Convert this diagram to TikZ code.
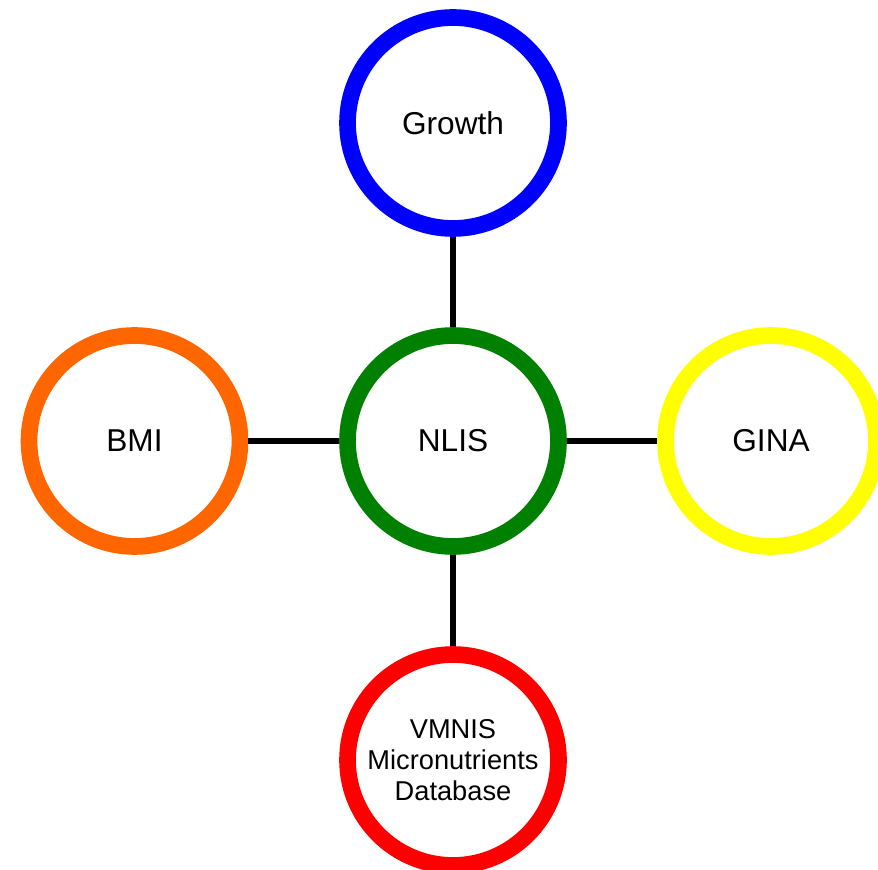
\documentclass[tikz,border=0pt]{standalone}
\usepackage{fontspec}
\setmainfont{Liberation Sans}
\definecolor{ringblue}{RGB}{0,0,255}
\definecolor{ringgreen}{RGB}{0,128,0}
\definecolor{ringorange}{RGB}{255,102,0}
\definecolor{ringyellow}{RGB}{255,255,0}
\definecolor{ringred}{RGB}{255,0,0}
\begin{document}
\begin{tikzpicture}[x=0.02cm,y=0.02cm,
  ring/.style={circle,draw,line width=9.5pt,minimum size=4.22cm,inner sep=0pt,
    font=\fontsize{18}{21}\selectfont,align=center},
  link/.style={line width=3.2pt,black}]
  \useasboundingbox (0,0) rectangle (878,869);
  % Ringar
  \node[ring,draw=ringgreen] (nlis) at (453,428) {NLIS};
  \node[ring,draw=ringblue] (growth) at (453,746) {Growth};
  \node[ring,draw=ringorange] (bmi) at (134.5,428) {BMI};
  \node[ring,draw=ringyellow] (gina) at (771,428) {GINA};
  \node[ring,draw=ringred,font=\fontsize{15.5}{17.6}\selectfont] (vmnis) at (453,109)
    {VMNIS\\Micronutrients\\Database};
  % Linjer
  \draw[link] (growth) -- (nlis);
  \draw[link] (bmi) -- (nlis);
  \draw[link] (nlis) -- (gina);
  \draw[link] (nlis) -- (vmnis);
\end{tikzpicture}
\end{document}
